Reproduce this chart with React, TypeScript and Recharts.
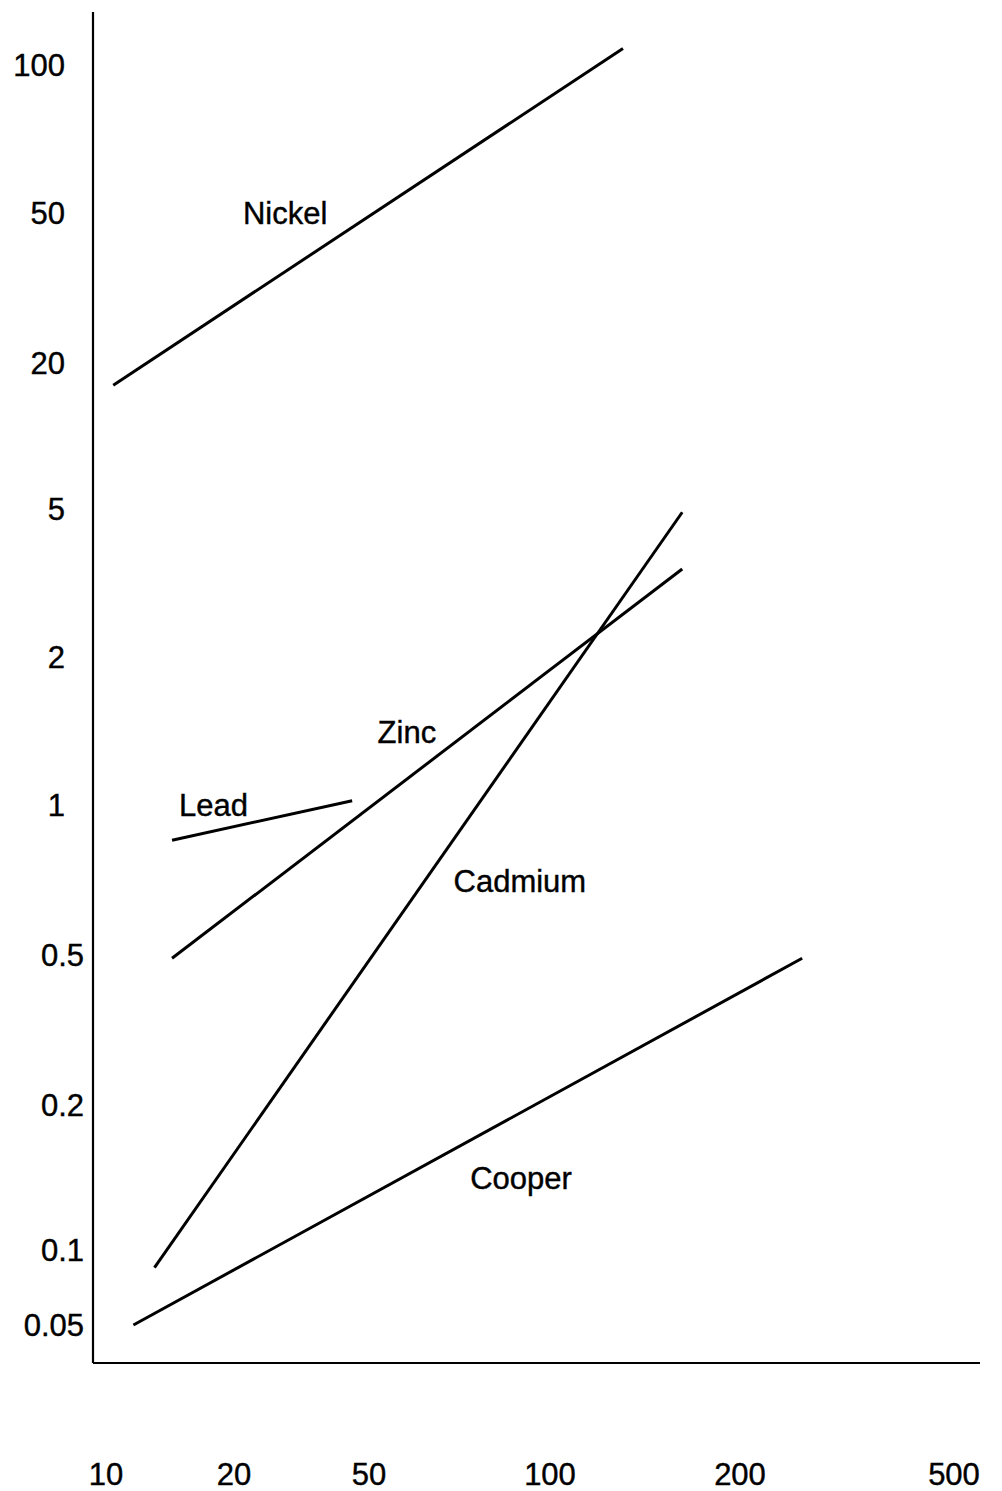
import React from 'react';
import { LineChart, Line, XAxis, YAxis, ReferenceDot } from 'recharts';

// ---- data (in the chart's own units) ----
const xTickValues = [10, 20, 50, 100, 200, 500];
const yTickValues = [100, 50, 20, 5, 2, 1, 0.5, 0.2, 0.1, 0.05];

const nickel = [{ x: 10.4, y: 16.2 }, { x: 130.5, y: 108 }];
const lead = [{ x: 14.3, y: 0.85 }, { x: 44.6, y: 1.02 }];
const zinc = [{ x: 14.3, y: 0.49 }, { x: 162, y: 3.45 }];
const cadmium = [{ x: 13.0, y: 0.085 }, { x: 162, y: 4.9 }];
const cooper = [{ x: 11.6, y: 0.05 }, { x: 261, y: 0.49 }];

const seriesNames = ['Nickel', 'Lead', 'Zinc', 'Cadmium', 'Cooper'];
const seriesData = [nickel, lead, zinc, cadmium, cooper];

const labelNames = ['Nickel', 'Lead', 'Zinc', 'Cadmium', 'Cooper'];
const labelX = [28.3, 17.9, 57.8, 89.1, 89.5];
const labelY = [50, 1.0, 1.41, 0.704, 0.141];

// ---- layout: where each tick value sits on the (non-uniform) printed axes ----
const X_TICK_POS = [106, 234, 369, 550, 740, 954];
const Y_TICK_POS = [65, 213, 363, 509, 657, 805, 955, 1105, 1250, 1325];

const W = 1002;
const H = 1491;
const PLOT_LEFT = 93;
const PLOT_RIGHT = 980;
const PLOT_TOP = 12;
const PLOT_BOTTOM = 1363;
const FONT = '"Liberation Sans", Arial, sans-serif';
const FS = 31;

// piecewise-logarithmic axis mapping through the printed tick anchors
function makeMap(vals: number[], pos: number[]) {
  const pairs = vals.map((v, i) => ({ l: Math.log10(v), p: pos[i] })).sort((a, b) => a.l - b.l);
  return (v: number) => {
    const l = Math.log10(v);
    let i = 0;
    while (i < pairs.length - 2 && l > pairs[i + 1].l) i++;
    const a = pairs[i];
    const b = pairs[i + 1];
    return a.p + ((l - a.l) / (b.l - a.l)) * (b.p - a.p);
  };
}
const mapX = makeMap(xTickValues, X_TICK_POS);
const mapY = makeMap(yTickValues, Y_TICK_POS);

const xTicks = xTickValues.map(mapX);
const yTicks = yTickValues.map(mapY);

const XTick = (props: any) => {
  const { x, payload } = props;
  const idx = xTicks.findIndex((t) => Math.abs(t - payload.value) < 0.001);
  return (
    <text x={x} y={PLOT_BOTTOM + 111} dy="0.36em" textAnchor="middle" fontSize={FS} fontFamily={FONT} fill="#000" stroke="#000" strokeWidth={0.4}>
      {idx >= 0 ? String(xTickValues[idx]) : ''}
    </text>
  );
};

const YTick = (props: any) => {
  const { y, payload } = props;
  const idx = yTicks.findIndex((t) => Math.abs(t - payload.value) < 0.001);
  const v = idx >= 0 ? yTickValues[idx] : 0;
  const right = v >= 1 ? 65 : 84;
  return (
    <text x={right} y={y} dy="0.36em" textAnchor="end" fontSize={FS} fontFamily={FONT} fill="#000" stroke="#000" strokeWidth={0.4}>
      {idx >= 0 ? String(v) : ''}
    </text>
  );
};

export default function App() {
  return (
    <div style={{ position: 'absolute', left: 0, top: 0, width: W, height: H, background: '#fff' }}>
      <LineChart
        width={W}
        height={H}
        margin={{ top: PLOT_TOP, right: W - PLOT_RIGHT, bottom: 0, left: 8 }}
      >
        <XAxis
          type="number"
          dataKey="x"
          domain={[PLOT_LEFT, PLOT_RIGHT]}
          ticks={xTicks}
          tick={<XTick />}
          tickLine={false}
          axisLine={{ stroke: '#000', strokeWidth: 2.2 }}
          height={H - PLOT_BOTTOM}
          allowDataOverflow
          interval={0}
        />
        <YAxis
          type="number"
          dataKey="y"
          domain={[PLOT_TOP, PLOT_BOTTOM]}
          reversed
          ticks={yTicks}
          tick={<YTick />}
          tickLine={false}
          axisLine={{ stroke: '#000', strokeWidth: 2.2 }}
          width={PLOT_LEFT - 8}
          allowDataOverflow
          interval={0}
        />
        {seriesData.map((s, i) => (
          <Line
            key={seriesNames[i]}
            name={seriesNames[i]}
            data={s.map((p) => ({ x: mapX(p.x), y: mapY(p.y) }))}
            dataKey="y"
            type="linear"
            stroke="#000"
            strokeWidth={3}
            dot={false}
            activeDot={false}
            isAnimationActive={false}
          />
        ))}
        {labelNames.map((n, i) => (
          <ReferenceDot
            key={n}
            x={mapX(labelX[i])}
            y={mapY(labelY[i])}
            r={0}
            fill="none"
            stroke="none"
            ifOverflow="visible"
            label={{ value: n, position: 'center', fontSize: FS, fontFamily: FONT, fill: '#000', stroke: '#000', strokeWidth: 0.4 }}
          />
        ))}
      </LineChart>
    </div>
  );
}
